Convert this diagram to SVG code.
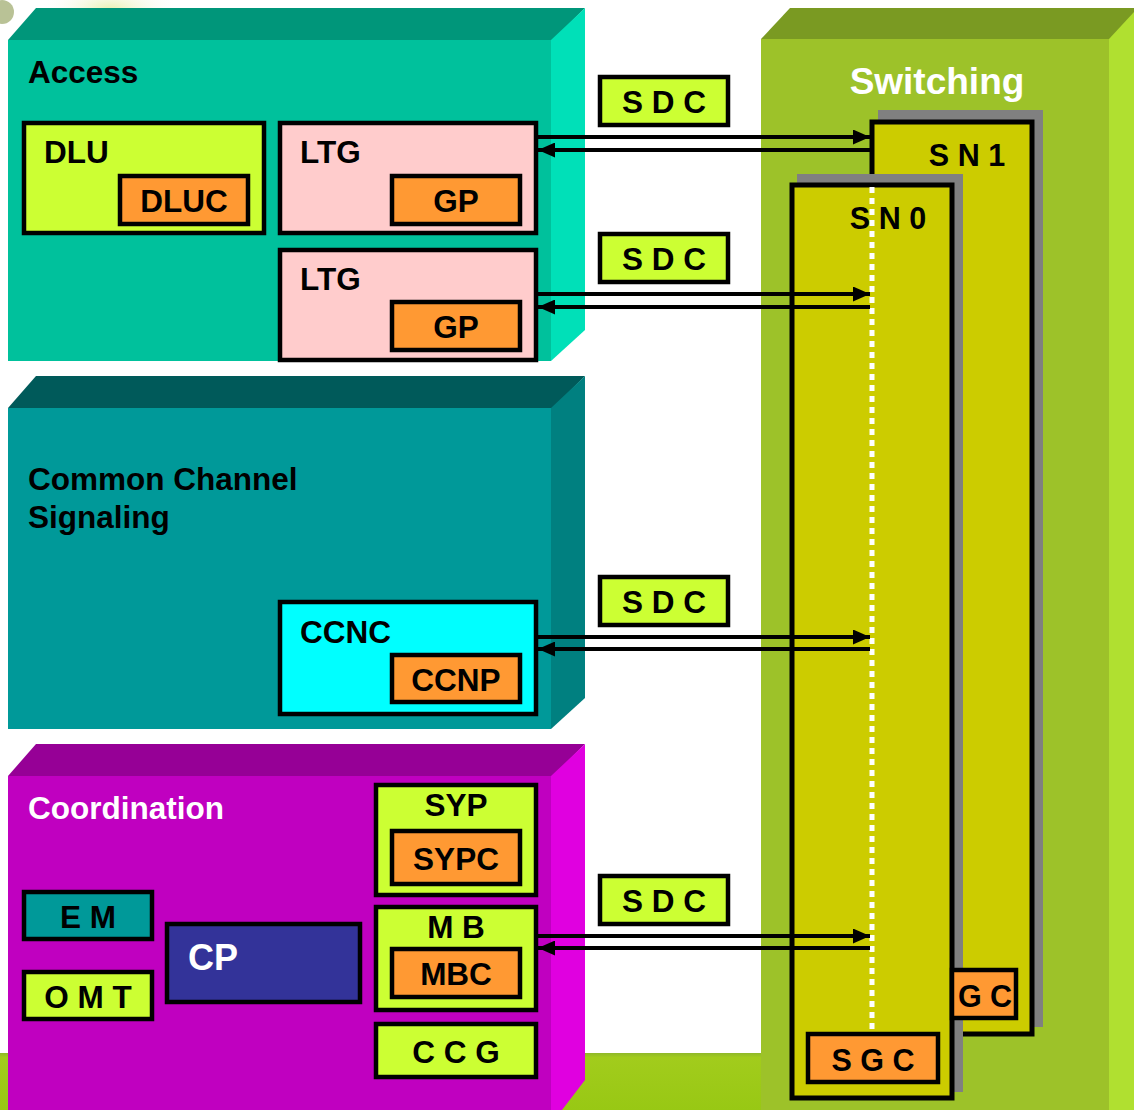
<svg xmlns="http://www.w3.org/2000/svg" width="1134" height="1110" viewBox="0 0 1134 1110">
<style>
text{font-family:"Liberation Sans",Arial,sans-serif;font-weight:bold}
.t28{font-size:31.5px;fill:#000}
.snl{font-size:30.5px;fill:#000}
.tw{fill:#fff}
.box{stroke:#000;stroke-width:4.5}
.lime{fill:#CCFF33}
.org{fill:#FF9933}
.pink{fill:#FFCCCC}
.sn{fill:#CCCC00;stroke:#000;stroke-width:5}
.shadow{fill:#808080}
.c{text-anchor:middle}
.conn{stroke:#000;stroke-width:4;fill:none}
</style>
<defs>
<marker id="ah" markerWidth="17" markerHeight="15" refX="17" refY="7.5" orient="auto" markerUnits="userSpaceOnUse">
<path d="M0,0 L17,7.5 L0,15 Z" fill="#000"/>
</marker>
<radialGradient id="glow" cx="0.5" cy="0.5" r="0.5">
<stop offset="0" stop-color="#E8F0B0"/>
<stop offset="1" stop-color="#FFFFFF" stop-opacity="0"/>
</radialGradient>
<linearGradient id="floor" x1="0" y1="0" x2="0" y2="1">
<stop offset="0" stop-color="#8FB82A"/>
<stop offset="0.08" stop-color="#A2CC1C"/>
<stop offset="1" stop-color="#98C814"/>
</linearGradient>
</defs>
<rect width="1134" height="1110" fill="#fff"/>
<ellipse cx="110" cy="10" rx="70" ry="30" fill="url(#glow)"/>
<circle cx="2" cy="12" r="12" fill="#8A9A50" opacity="0.6"/>
<rect x="0" y="1053" width="1134" height="57" fill="url(#floor)"/>

<g id="switching">
<polygon points="761,39 790,8 1134,8 1134,39" fill="#7A9A22"/>
<polygon points="1109,39 1134,12 1134,1110 1109,1110" fill="#B0E030"/>
<rect x="761" y="39" width="348" height="1071" fill="#9DC229"/>
<text x="937" y="94" class="c tw" font-size="37">Switching</text>
</g>

<g id="access">
<polygon points="8,40 36,8 585,8 553,40" fill="#00967A"/>
<polygon points="551,40 585,8 585,330 551,361" fill="#00E0B8"/>
<rect x="8" y="40" width="543" height="321" fill="#00C19C"/>
<text x="28" y="83" class="t28">Access</text>
</g>

<g id="ccs">
<polygon points="8,408 36,376 585,376 553,408" fill="#005A5A"/>
<polygon points="551,408 585,376 585,698 551,729" fill="#008080"/>
<rect x="8" y="408" width="543" height="321" fill="#009999"/>
<text x="28" y="490" class="t28">Common Channel</text>
<text x="28" y="528" class="t28">Signaling</text>
</g>

<g id="coordination">
<polygon points="8,776 36,744 585,744 553,776" fill="#960096"/>
<polygon points="551,776 585,744 585,1080 562,1110 551,1110" fill="#E000E0"/>
<rect x="8" y="776" width="543" height="334" fill="#C000C0"/>
<text x="28" y="819" class="tw" font-size="31.5">Coordination</text>
</g>

<g id="dlu">
<rect x="24" y="123" width="240" height="110" class="box lime"/>
<text x="44" y="163" class="t28">DLU</text>
</g>
<g id="dluc">
<rect x="120" y="176" width="128" height="48" class="box org"/>
<text x="184" y="212" class="t28 c">DLUC</text>
</g>
<g id="ltg1">
<rect x="280" y="123" width="256" height="110" class="box pink"/>
<text x="300" y="163" class="t28">LTG</text>
</g>
<g id="gp1">
<rect x="392" y="176" width="128" height="48" class="box org"/>
<text x="456" y="212" class="t28 c">GP</text>
</g>
<g id="ltg2">
<rect x="280" y="250" width="256" height="110" class="box pink"/>
<text x="300" y="290" class="t28">LTG</text>
</g>
<g id="gp2">
<rect x="392" y="302" width="128" height="48" class="box org"/>
<text x="456" y="338" class="t28 c">GP</text>
</g>
<g id="ccnc">
<rect x="280" y="602" width="256" height="112" class="box" fill="#00FFFF"/>
<text x="300" y="643" class="t28">CCNC</text>
</g>
<g id="ccnp">
<rect x="392" y="655" width="128" height="47" class="box org"/>
<text x="456" y="691" class="t28 c">CCNP</text>
</g>
<g id="syp">
<rect x="376" y="785" width="160" height="110" class="box lime"/>
<text x="456" y="816" class="t28 c">SYP</text>
</g>
<g id="sypc">
<rect x="392" y="831" width="128" height="53" class="box org"/>
<text x="456" y="870" class="t28 c">SYPC</text>
</g>
<g id="mb">
<rect x="376" y="907" width="160" height="103" class="box lime"/>
<text x="456" y="938" class="t28 c">M B</text>
</g>
<g id="mbc">
<rect x="392" y="949" width="128" height="48" class="box org"/>
<text x="456" y="985" class="t28 c">MBC</text>
</g>
<g id="ccg">
<rect x="376" y="1024" width="160" height="53" class="box lime"/>
<text x="456" y="1063" class="t28 c">C C G</text>
</g>
<g id="em">
<rect x="24" y="892" width="128" height="47" class="box" fill="#009999"/>
<text x="88" y="928" class="t28 c">E M</text>
</g>
<g id="omt">
<rect x="24" y="972" width="128" height="47" class="box lime"/>
<text x="88" y="1008" class="t28 c">O M T</text>
</g>
<g id="cp">
<rect x="167" y="924" width="193" height="78" class="box" fill="#333399"/>
<text x="188" y="970" class="tw" font-size="36">CP</text>
</g>

<g id="sn1">
<rect x="878" y="110" width="165" height="917" class="shadow"/>
<rect x="872" y="122" width="160" height="912" class="sn"/>
<text x="967" y="166" class="snl c">S N 1</text>
</g>
<g id="sn0">
<rect x="797" y="174" width="166" height="918" class="shadow"/>
<rect x="792" y="185" width="160" height="913" class="sn"/>
<line x1="872" y1="187" x2="872" y2="1032" stroke="#fff" stroke-width="5" stroke-dasharray="6,5"/>
<text x="888" y="229" class="snl c">S N 0</text>
</g>
<g id="gc">
<rect x="952" y="970" width="64" height="48" class="box org"/>
<text x="985" y="1007" class="snl c">G C</text>
</g>
<g id="sgc">
<rect x="808" y="1034" width="130" height="48" class="box org"/>
<text x="873" y="1071" class="snl c">S G C</text>
</g>

<g id="sdc1"><rect x="600" y="77" width="128" height="48" class="box lime"/><text x="664" y="113" class="t28 c">S D C</text></g>
<g id="sdc2"><rect x="600" y="234" width="128" height="48" class="box lime"/><text x="664" y="270" class="t28 c">S D C</text></g>
<g id="sdc3"><rect x="600" y="577" width="128" height="48" class="box lime"/><text x="664" y="613" class="t28 c">S D C</text></g>
<g id="sdc4"><rect x="600" y="876" width="128" height="48" class="box lime"/><text x="664" y="912" class="t28 c">S D C</text></g>

<g id="connectors">
<line x1="538" y1="137" x2="870" y2="137" class="conn" marker-end="url(#ah)"/>
<line x1="870" y1="150" x2="538" y2="150" class="conn" marker-end="url(#ah)"/>
<line x1="538" y1="294" x2="870" y2="294" class="conn" marker-end="url(#ah)"/>
<line x1="870" y1="307" x2="538" y2="307" class="conn" marker-end="url(#ah)"/>
<line x1="538" y1="637" x2="870" y2="637" class="conn" marker-end="url(#ah)"/>
<line x1="870" y1="649" x2="538" y2="649" class="conn" marker-end="url(#ah)"/>
<line x1="538" y1="936" x2="870" y2="936" class="conn" marker-end="url(#ah)"/>
<line x1="870" y1="948" x2="538" y2="948" class="conn" marker-end="url(#ah)"/>
</g>
</svg>
